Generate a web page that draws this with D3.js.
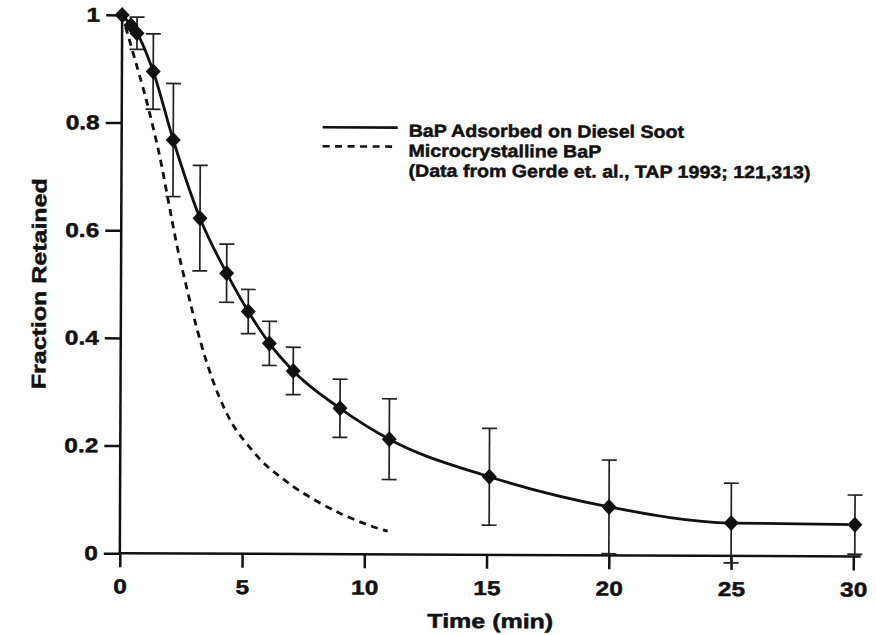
<!DOCTYPE html>
<html>
<head>
<meta charset="utf-8">
<script src="https://cdn.jsdelivr.net/npm/d3@7"></script>
<style>
  body { margin: 0; background: #fff; }
  text { font-family: 'Liberation Sans', Arial, Helvetica, sans-serif; font-weight: bold; fill: #111; stroke: #111; stroke-width: 0.5px; }
</style>
</head>
<body>
<svg id="chart" width="876" height="635"></svg>
<script>
// BaP adsorbed on diesel soot: mean fraction retained with error bars
const timeMin     = [0, 0.36, 0.61, 1.28, 2.11, 3.22, 4.32, 5.21, 6.08, 7.06, 8.98, 11.0, 15.1, 20.0, 25.0, 30.06];
const retained    = [1.0, 0.981, 0.966, 0.895, 0.768, 0.623, 0.521, 0.45, 0.391, 0.34, 0.271, 0.214, 0.145, 0.09, 0.061, 0.059];
const retainedErr = [0, 0, 0.03, 0.07, 0.105, 0.098, 0.054, 0.041, 0.041, 0.044, 0.054, 0.075, 0.09, 0.087, 0.074, 0.055];

// Microcrystalline BaP curve
const crystalTime     = [0, 0.45, 0.8, 1.1, 1.55, 1.95, 2.3, 2.67, 3.0, 3.5, 4.04, 4.65, 5.4, 6.0, 6.5, 7.35, 8.95, 10.3, 10.95];
const crystalRetained = [1.0, 0.93, 0.875, 0.825, 0.74, 0.648, 0.568, 0.497, 0.437, 0.358, 0.291, 0.236, 0.192, 0.163, 0.145, 0.117, 0.077, 0.052, 0.043];

const xTicks = [0, 5, 10, 15, 20, 25, 30];
const yTicks = [0, 0.2, 0.4, 0.6, 0.8, 1];
const yTickLabels = ["0", "0.2", "0.4", "0.6", "0.8", "1"];
const xTitle = "Time (min)";
const yTitle = "Fraction Retained";
const legendLabels = ["BaP Adsorbed on Diesel Soot", "Microcrystalline BaP", "(Data from Gerde et. al., TAP 1993; 121,313)"];

const ink = "#111";
const stretch = 1.22;

const svg = d3.select("#chart");
const x = d3.scaleLinear().domain([0, 30]).range([121, 854.5]);
const y = d3.scaleLinear().domain([0, 1]).range([554.8, 16.5]);

// the whole figure sits very slightly tilted
const g = svg.append("g").attr("transform", "rotate(0.25 487 285)");

// axis lines
g.append("line")
  .attr("x1", x(0)).attr("x2", x(0)).attr("y1", y(0)).attr("y2", y(1))
  .attr("stroke", ink).attr("stroke-width", 2.5);
g.append("line")
  .attr("x1", x(0)).attr("x2", x(30.3)).attr("y1", y(0)).attr("y2", y(0))
  .attr("stroke", ink).attr("stroke-width", 2.5);

// x axis
const xAxis = d3.axisBottom(x).tickValues(xTicks).tickSize(14).tickSizeOuter(0)
  .tickPadding(12).tickFormat(d3.format("d"));
const ax = g.append("g").attr("transform", `translate(0,${y(0)})`).call(xAxis);
ax.select(".domain").remove();
ax.selectAll(".tick line").attr("stroke", ink).attr("stroke-width", 2.5);
ax.selectAll(".tick text")
  .attr("font-size", 20).attr("fill", ink)
  .attr("transform", `scale(${stretch},1)`);

// y axis
const yAxis = d3.axisLeft(y).tickValues(yTicks).tickSize(16).tickSizeOuter(0)
  .tickFormat((d, i) => yTickLabels[i]);
const ay = g.append("g").attr("transform", `translate(${x(0)},0)`).call(yAxis);
ay.select(".domain").remove();
ay.selectAll(".tick line").attr("stroke", ink).attr("stroke-width", 2.5);
ay.selectAll(".tick text")
  .attr("font-size", 20).attr("fill", ink)
  .attr("x", 0)
  .attr("transform", `translate(-22,0) scale(${stretch},1)`);
svg.selectAll("g[font-family]").attr("font-family", null).attr("font-size", null);

// axis titles
g.append("text")
  .attr("text-anchor", "middle").attr("font-size", 20)
  .attr("transform", `translate(${(x(0) + x(30)) / 2 + 4},628) scale(1.25,1)`)
  .text(xTitle);
g.append("text")
  .attr("text-anchor", "middle").attr("font-size", 20)
  .attr("transform", `translate(46,${(y(0) + y(1)) / 2}) rotate(-90) scale(1.25,1)`)
  .text(yTitle);

// microcrystalline curve (dashed)
const crystal = crystalTime.map((t, i) => [t, crystalRetained[i]]);
g.append("path")
  .datum(crystal)
  .attr("fill", "none").attr("stroke", ink).attr("stroke-width", 2.8)
  .attr("stroke-dasharray", "7,5.5")
  .attr("d", d3.line().x(d => x(d[0])).y(d => y(d[1])).curve(d3.curveCatmullRom.alpha(0.5)));

// error bars
const soot = timeMin.map((t, i) => ({ t, v: retained[i], e: retainedErr[i] }));
const bars = g.append("g").attr("stroke", "#222").attr("stroke-width", 1.7);
soot.filter(d => d.e > 0).forEach(d => {
  const cx = x(d.t), top = y(d.v + d.e), bot = y(d.v - d.e);
  bars.append("line").attr("x1", cx).attr("x2", cx).attr("y1", top).attr("y2", bot);
  bars.append("line").attr("x1", cx - 7.5).attr("x2", cx + 7.5).attr("y1", top).attr("y2", top);
  bars.append("line").attr("x1", cx - 7.5).attr("x2", cx + 7.5).attr("y1", bot).attr("y2", bot);
});

// soot curve (solid)
g.append("path")
  .datum(soot)
  .attr("fill", "none").attr("stroke", ink).attr("stroke-width", 2.8)
  .attr("d", d3.line().x(d => x(d.t)).y(d => y(d.v)).curve(d3.curveMonotoneX));

// diamond markers
g.append("g").selectAll("path")
  .data(soot)
  .join("path")
  .attr("transform", d => `translate(${x(d.t)},${y(d.v)})`)
  .attr("d", "M0,-8L7.5,0L0,8L-7.5,0Z")
  .attr("fill", ink);

// legend
const leg = g.append("g");
leg.append("line").attr("x1", 322).attr("x2", 397).attr("y1", 128).attr("y2", 128)
  .attr("stroke", ink).attr("stroke-width", 2.6);
leg.append("line").attr("x1", 322).attr("x2", 397).attr("y1", 147).attr("y2", 147)
  .attr("stroke", ink).attr("stroke-width", 2.6).attr("stroke-dasharray", "7,5.5");
legendLabels.forEach((s, i) => {
  leg.append("text")
    .attr("font-size", 17.5)
    .attr("transform", `translate(408,${137 + i * 20}) scale(1.12,1)`)
    .text(s);
});
</script>
</body>
</html>
